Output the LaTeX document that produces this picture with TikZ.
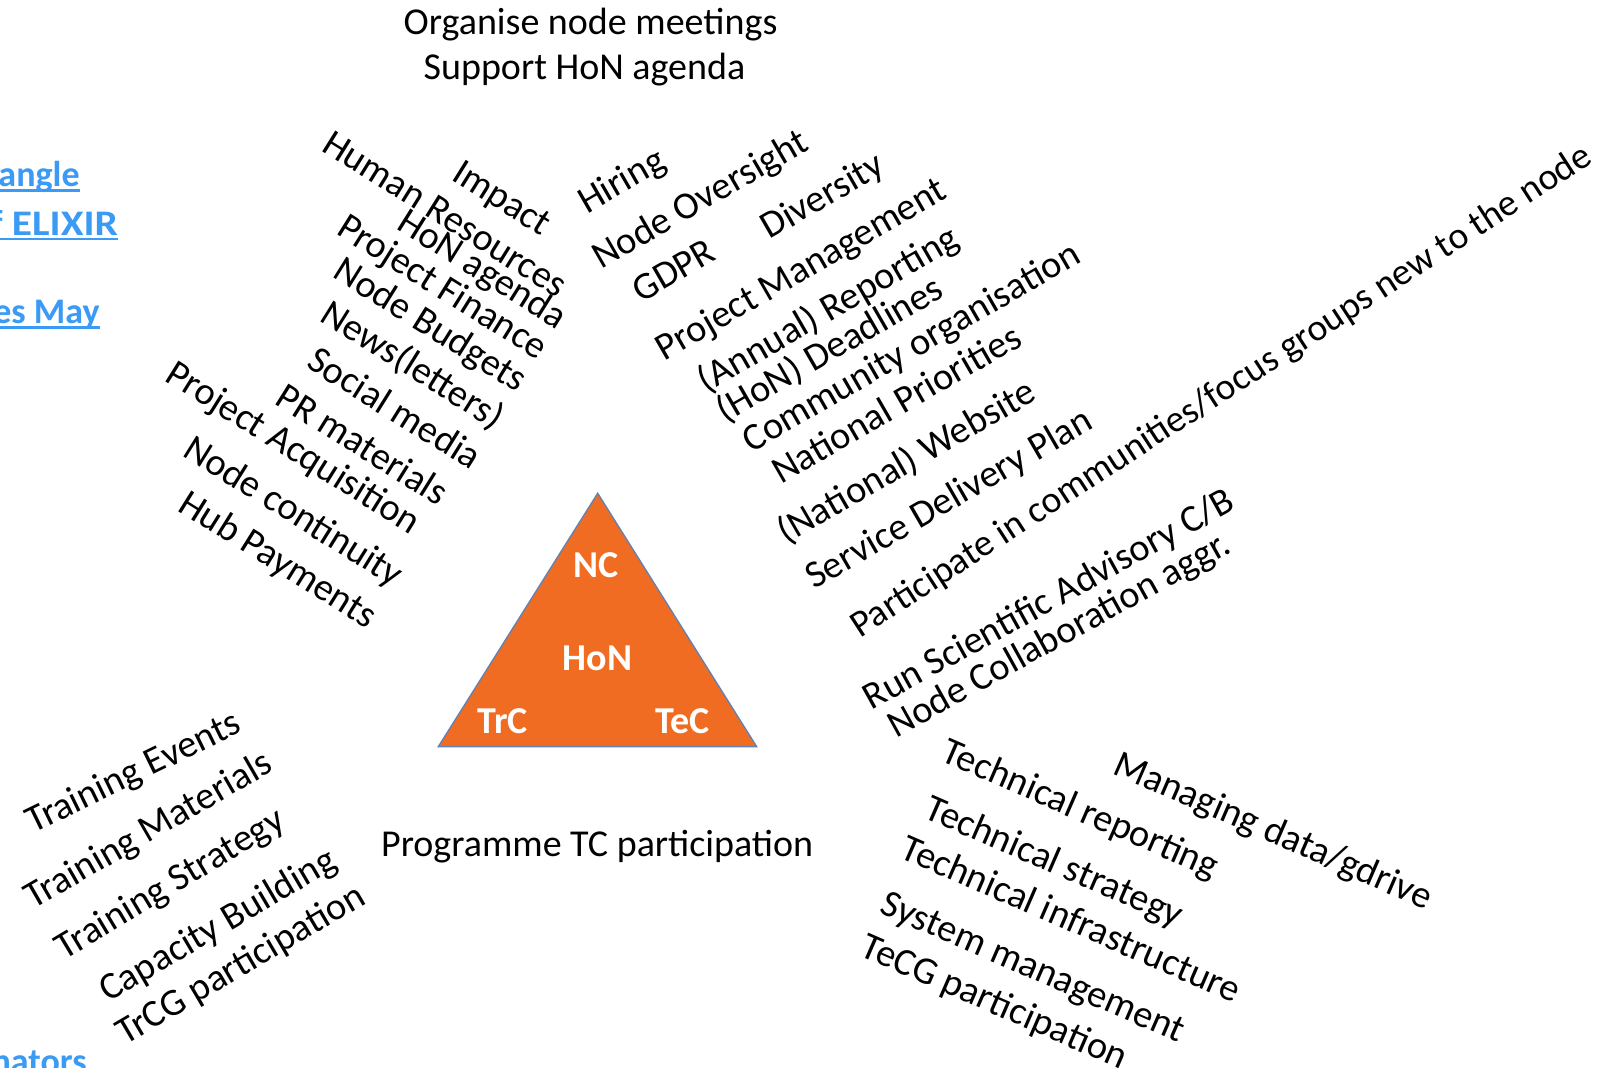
\documentclass[tikz,border=0pt]{standalone}
\usepackage{fontspec}
\setmainfont{Carlito}
\definecolor{orangeNC}{RGB}{241,108,35}
\definecolor{bordTri}{RGB}{100,130,175}
\definecolor{lienBleu}{RGB}{58,154,244}

\begin{document}
\begin{tikzpicture}[
    x=0.5pt, y=-0.5pt, % une unité = un pixel de la diapo
    tache/.style={inner sep=0pt, anchor=base west, font=\fontsize{19.2}{23}\selectfont},
    titre/.style={inner sep=0pt, anchor=base west, font=\fontsize{19}{23}\selectfont},
    sommet/.style={inner sep=0pt, anchor=base, text=white, font=\fontsize{19}{22}\selectfont\bfseries},
    lien/.style={inner sep=0pt, anchor=base east, text=lienBleu, font=\fontsize{18}{22}\selectfont\bfseries},
    souligne/.style={draw=lienBleu, line width=1.35pt}
]
\clip (0,0) rectangle (1604,1067);
\fill[white] (0,0) rectangle (1604,1067);

% Triangle central
\coordinate (haut) at (597.7,493.3);
\coordinate (gauche) at (438.3,746.7);
\coordinate (droite) at (756.7,746.7);
\filldraw[fill=orangeNC, draw=bordTri, line width=0.7pt] (haut) -- (gauche) -- (droite) -- cycle;
\node[sommet] (nc) at (596,577.3) {NC};
\node[sommet] (hon) at (597.5,670) {HoN};
\node[sommet] (trc) at (502.8,733.3) {TrC};
\node[sommet] (tec) at (682.5,733.3) {TeC};

% Textes horizontaux
\node[titre] (organise) at (403.3,34.5) {Organise node meetings};
\node[titre] (support) at (423.3,79) {Support HoN agenda};
\node[titre] (programme) at (380.7,856.7) {Programme TC participation};

% Coin haut gauche
\node[tache, rotate=-32] (impact) at (449.7,179.3) {Impact};
\node[tache, rotate=-32] (rh) at (319.7,150) {Human Resources};
\node[tache, rotate=-32] (honagenda) at (394.7,228.3) {HoN agenda};
\node[tache, rotate=-32] (finance) at (334.7,233.3) {Project Finance};
\node[tache, rotate=-32] (budgets) at (331.3,276.7) {Node Budgets};
\node[tache, rotate=-32] (news) at (318,320) {News(letters)};
\node[tache, rotate=-32] (social) at (304.7,366.7) {Social media};
\node[tache, rotate=-32] (pr) at (273,403.3) {PR materials};
\node[tache, rotate=-32] (acquisition) at (163,380) {Project Acquisition};
\node[tache, rotate=-32] (continuity) at (181.3,455) {Node continuity};
\node[tache, rotate=-32] (payments) at (176.3,510) {Hub Payments};

% Coin haut droit
\node[tache, rotate=30] (hiring) at (586.7,214.3) {Hiring};
\node[tache, rotate=30] (oversight) at (601,270) {Node Oversight};
\node[tache, rotate=30] (gdpr) at (641,303.3) {GDPR};
\node[tache, rotate=30] (diversity) at (769.3,240) {Diversity};
\node[tache, rotate=30] (pm) at (664.3,361.7) {Project Management};
\node[tache, rotate=30] (annual) at (706,393.3) {(Annual) Reporting};
\node[tache, rotate=30] (deadlines) at (725.3,423.3) {(HoN) Deadlines};
\node[tache, rotate=30] (community) at (751,453.3) {Community organisation};
\node[tache, rotate=30] (priorities) at (781,485) {National Priorities};
\node[tache, rotate=30] (website) at (786,545) {(National) Website};
\node[tache, rotate=30] (sdp) at (814.3,590) {Service Delivery Plan};
\node[tache, rotate=33, font=\fontsize{18.8}{23}\selectfont] (participate) at (860,639) {Participate in communities/focus groups new to the node};
\node[tache, rotate=29] (advisory) at (871.5,711) {Run Scientific Advisory C/B};
\node[tache, rotate=29] (collab) at (896,738.5) {Node Collaboration aggr.};

% Coin bas gauche
\node[tache, rotate=26] (events) at (33,834) {Training Events};
\node[tache, rotate=30] (materials) at (33,910) {Training Materials};
\node[tache, rotate=31] (strategy) at (64,961) {Training Strategy};
\node[tache, rotate=30.5] (capacity) at (108,1003) {Capacity Building};
\node[tache, rotate=30.5] (trcg) at (125,1046) {TrCG participation};

% Coin bas droit
\node[tache, rotate=-23.5] (gdrive) at (1111,773) {Managing data/gdrive};
\node[tache, rotate=-23.5] (techrep) at (939.3,760.5) {Technical reporting};
\node[tache, rotate=-23.5] (techstrat) at (922.6,817.2) {Technical strategy};
\node[tache, rotate=-23.5] (techinfra) at (898.6,857.2) {Technical infrastructure};
\node[tache, rotate=-23.5] (sysman) at (878,912.2) {System management};
\node[tache, rotate=-23.5] (tecg) at (858.6,955.5) {TeCG participation};

% Liens coupés au bord gauche
\node[lien] (angle) at (80,186.7) {angle};
\node[lien] (elixir) at (118.3,235) {\scalebox{1.15}[1]{f ELIXIR}};
\node[lien] (may) at (100,323.3) {es May};
\node[lien] (nators) at (87,1073) {nators};
\foreach \l in {angle, elixir, may, nators}
    \draw[souligne] ([yshift=-2pt]\l.base west) -- ([yshift=-2pt]\l.base east);
\end{tikzpicture}
\end{document}
